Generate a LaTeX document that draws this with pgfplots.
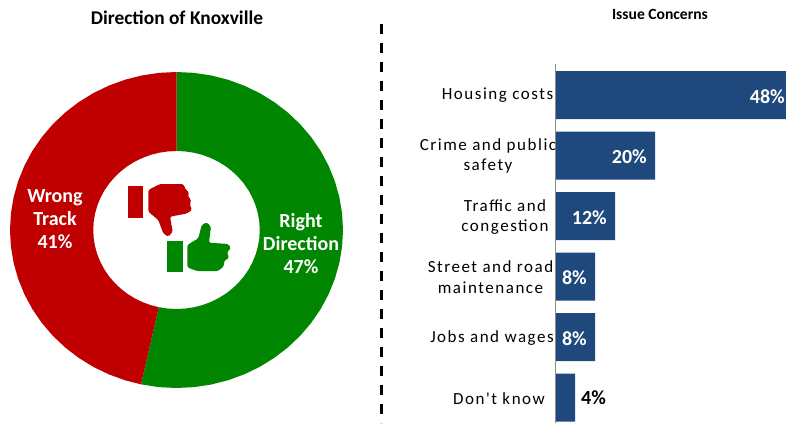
\documentclass[border=0pt]{standalone}
\usepackage{pgfplots}
\pgfplotsset{compat=1.18}
\usepackage{fontspec}
\setmainfont{Carlito}
\newfontfamily\lblfont[LetterSpace=9]{Carlito}
\definecolor{rightgreen}{HTML}{008600}
\definecolor{wrongred}{HTML}{C00000}
\definecolor{barblue}{HTML}{1F497D}
\definecolor{axisgray}{HTML}{8C8C8C}
% one px of the reference = 1pt here
\begin{document}
\begin{tikzpicture}
\useasboundingbox (0,0) rectangle (786pt,423pt);
\clip (0,0) rectangle (786pt,423pt);

% donut: 47 right direction, 41 wrong track (of 88 shown)
\begin{axis}[at={(10pt,35pt)},anchor=south west,scale only axis,
    width=333pt,height=316pt,xmin=-1,xmax=1,ymin=-1,ymax=1,axis lines=none,clip=false]
  \addplot[fill=rightgreen,draw=none,data cs=polar] coordinates {
    (90,1)(84,1)(78,1)(72,1)(66,1)(60,1)(54,1)(48,1)(42,1)(36,1)(30,1)(24,1)(18,1)(12,1)(6,1)(0,1)
    (-6,1)(-12,1)(-18,1)(-24,1)(-30,1)(-36,1)(-42,1)(-48,1)(-54,1)(-60,1)(-66,1)(-72,1)(-78,1)(-84,1)(-90,1)(-96,1)(-102.3,1)
    (-102.3,.5)(-96,.5)(-90,.5)(-84,.5)(-78,.5)(-72,.5)(-66,.5)(-60,.5)(-54,.5)(-48,.5)(-42,.5)(-36,.5)(-30,.5)(-24,.5)(-18,.5)(-12,.5)(-6,.5)
    (0,.5)(6,.5)(12,.5)(18,.5)(24,.5)(30,.5)(36,.5)(42,.5)(48,.5)(54,.5)(60,.5)(66,.5)(72,.5)(78,.5)(84,.5)(90,.5)} -- cycle;
  \addplot[fill=wrongred,draw=none,data cs=polar] coordinates {
    (-102.3,1)(-108,1)(-114,1)(-120,1)(-126,1)(-132,1)(-138,1)(-144,1)(-150,1)(-156,1)(-162,1)(-168,1)(-174,1)(-180,1)
    (-186,1)(-192,1)(-198,1)(-204,1)(-210,1)(-216,1)(-222,1)(-228,1)(-234,1)(-240,1)(-246,1)(-252,1)(-258,1)(-264,1)(-270,1)
    (-270,.5)(-264,.5)(-258,.5)(-252,.5)(-246,.5)(-240,.5)(-234,.5)(-228,.5)(-222,.5)(-216,.5)(-210,.5)(-204,.5)(-198,.5)(-192,.5)(-186,.5)
    (-180,.5)(-174,.5)(-168,.5)(-162,.5)(-156,.5)(-150,.5)(-144,.5)(-138,.5)(-132,.5)(-126,.5)(-120,.5)(-114,.5)(-108,.5)(-102.3,.5)} -- cycle;
\end{axis}

% bars: y positions are category index, 60.5px apart
\begin{axis}[at={(555pt,0pt)},anchor=south west,scale only axis,
    width=231pt,height=423pt,xmin=0,xmax=46.2,
    y dir=reverse,ymin=-1.570,ymax=5.421,axis lines=none,clip mode=individual]
  \addplot[xbar,bar width=48pt,fill=barblue,draw=none,bar shift=0pt] coordinates {
    (48,0)(20,1)(12,2)(8,3)(8,4)(4,5)};
  \addplot[axisgray,line width=1pt] coordinates {(0,-0.512)(0,5.421)};
  \foreach \v/\i/\s in {48/0/-10pt,20/1/-8pt,12/2/-8pt,8/3/-8pt,8/4/-8pt}{
    \edef\temp{\noexpand\node[anchor=east,text=white,font=\noexpand\bfseries\noexpand\fontsize{20}{22}\noexpand\selectfont,inner sep=0pt,xshift=\s,yshift=-1.5pt] at (axis cs:\v,\i) {\v\noexpand\%};}
    \temp
  }
  \node[anchor=west,font=\bfseries\fontsize{20}{22}\selectfont,inner sep=0pt,xshift=6pt,yshift=-0.5pt] at (axis cs:4,5) {4\%};
\end{axis}

% overlay in reference pixels: titles, labels, icons, divider
\begin{axis}[at={(0,0)},anchor=south west,scale only axis,width=786pt,height=423pt,
    xmin=0,xmax=786,ymin=0,ymax=423,y dir=reverse,axis lines=none,clip=false]
  \addplot[black,line width=3pt,dash pattern=on 10pt off 9pt] coordinates {(381,24)(381,423)};
  % thumb down
  \addplot[fill=wrongred,draw=none] coordinates {(128,186)(143,186)(143,218)(128,218)} -- cycle;
  \addplot[fill=wrongred,draw=none,rounded corners=1.5pt] coordinates {(148.3,190)(160,184)(183.3,184)(186,190)(189,192)(188,197)(191,199)(190,205)(192,210)(186.7,213.5)(170,216.7)(172.7,231.7)(168.3,236.7)(163.3,233.3)(158.3,220)(148.3,211.7)} -- cycle;
  % thumb up
  \addplot[fill=rightgreen,draw=none] coordinates {(167.3,240.7)(182.7,240.7)(182.7,271.7)(167.3,271.7)} -- cycle;
  \addplot[fill=rightgreen,draw=none,rounded corners=1.5pt] coordinates {(187.3,245)(198.3,238.3)(201.7,225)(206.7,222.3)(211,226.7)(209,242.7)(228.3,244)(231,248.3)(227,252)(229,258)(224,261)(224,266)(218.3,271)(196.7,271)(187.3,267.3)} -- cycle;

  \node[font=\bfseries\fontsize{19.4}{22}\selectfont] at (axis cs:177,18) {Direction of Knoxville};
  \node[font=\bfseries\fontsize{15.6}{20}\selectfont] at (axis cs:660,14) {Issue Concerns};
  \node[text=white,align=center,font=\bfseries\fontsize{20}{23}\selectfont] at (axis cs:55,219) {Wrong\\Track\\41\%};
  \node[text=white,align=center,font=\bfseries\fontsize{20}{23}\selectfont] at (axis cs:301,244) {Right\\Direction\\47\%};

  \node[align=center,font=\lblfont\fontsize{17}{20.5}\selectfont,inner sep=0pt] at (axis cs:497.5,95.5) {Housing costs};
  \node[align=center,font=\lblfont\fontsize{17}{20.5}\selectfont,inner sep=0pt] at (axis cs:488,156) {Crime and public\\safety};
  \node[align=center,font=\lblfont\fontsize{17}{20.5}\selectfont,inner sep=0pt] at (axis cs:505,217) {Traffic and\\congestion};
  \node[align=center,font=\lblfont\fontsize{17}{20.5}\selectfont,inner sep=0pt] at (axis cs:490.5,277) {Street and road\\maintenance};
  \node[align=center,font=\lblfont\fontsize{17}{20.5}\selectfont,inner sep=0pt] at (axis cs:492,338) {Jobs and wages};
  \node[align=center,font=\lblfont\fontsize{17}{20.5}\selectfont,inner sep=0pt] at (axis cs:499,399) {Don't know};
\end{axis}
\end{tikzpicture}
\end{document}
